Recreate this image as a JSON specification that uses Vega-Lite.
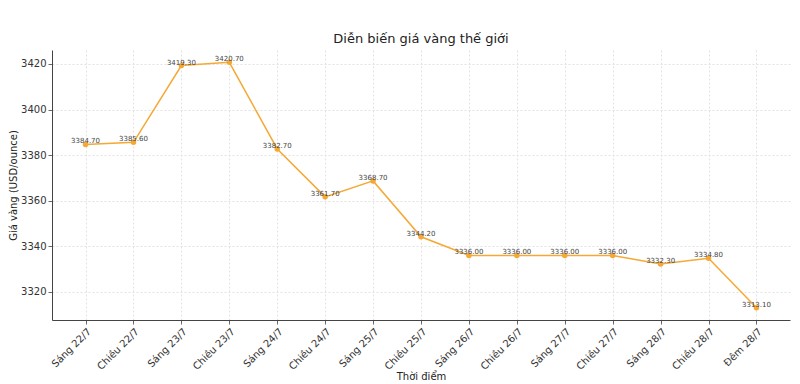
{
  "$schema": "https://vega.github.io/schema/vega-lite/v6.json",
  "width": 738,
  "height": 270,
  "autosize": "none",
  "padding": {"left": 52, "top": 50, "right": 10, "bottom": 64},
  "background": "white",
  "title": {"text": "Diễn biến giá vàng thế giới", "font": "DejaVu Sans", "fontSize": 13, "fontWeight": "normal", "color": "#222", "offset": 4},
  "config": {
    "view": {"stroke": null},
    "font": "DejaVu Sans",
    "axis": {"labelFont": "DejaVu Sans", "titleFont": "DejaVu Sans", "labelFontSize": 10, "titleFontSize": 10, "titleFontWeight": "normal", "labelColor": "#333", "titleColor": "#222", "domainColor": "#444", "tickColor": "#666", "gridColor": "#e2e2e2", "gridDash": [2, 2], "tickSize": 4}
  },
  "data": {"values": [
    {"t": "Sáng 22/7", "v": 3384.7},
    {"t": "Chiều 22/7", "v": 3385.6},
    {"t": "Sáng 23/7", "v": 3419.3},
    {"t": "Chiều 23/7", "v": 3420.7},
    {"t": "Sáng 24/7", "v": 3382.7},
    {"t": "Chiều 24/7", "v": 3361.7},
    {"t": "Sáng 25/7", "v": 3368.7},
    {"t": "Chiều 25/7", "v": 3344.2},
    {"t": "Sáng 26/7", "v": 3336.0},
    {"t": "Chiều 26/7", "v": 3336.0},
    {"t": "Sáng 27/7", "v": 3336.0},
    {"t": "Chiều 27/7", "v": 3336.0},
    {"t": "Sáng 28/7", "v": 3332.3},
    {"t": "Chiều 28/7", "v": 3334.8},
    {"t": "Đêm 28/7", "v": 3313.1}
  ]},
  "encoding": {
    "x": {"field": "t", "type": "ordinal", "sort": null, "scale": {"type": "point", "padding": 0.7},
      "axis": {"title": "Thời điểm", "labelAngle": -45, "grid": true, "titlePadding": 0, "titleBaseline": "top"}},
    "y": {"field": "v", "type": "quantitative", "scale": {"domain": [3307.7, 3426.1], "nice": false, "zero": false},
      "axis": {"title": "Giá vàng (USD/ounce)", "format": "d", "values": [3320, 3340, 3360, 3380, 3400, 3420], "grid": true, "titlePadding": 2}}
  },
  "layer": [
    {"mark": {"type": "line", "color": "#f5a833", "strokeWidth": 1.5}},
    {"mark": {"type": "point", "filled": true, "color": "#f5a833", "size": 30, "opacity": 1}},
    {"mark": {"type": "text", "fontSize": 7, "color": "#444", "baseline": "bottom", "dy": 0},
      "encoding": {"text": {"field": "v", "type": "quantitative", "format": ".2f"}}}
  ]
}
